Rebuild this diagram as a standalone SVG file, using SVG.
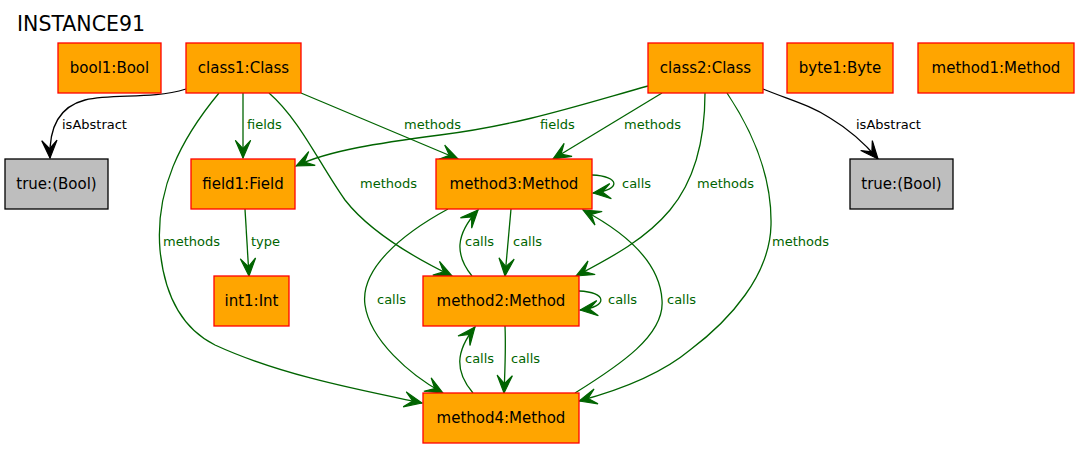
<svg xmlns="http://www.w3.org/2000/svg" width="1079" height="449" viewBox="0 0 1079 449">
<style>
  .node rect { fill: #FFA500; stroke: #FF0000; stroke-width: 1.3; }
  .node.val rect { fill: #BEBEBE; stroke: #000000; }
  .node text { font-family: "DejaVu Sans", sans-serif; font-size: 15px; fill: #000; text-anchor: middle; }
  .title { font-family: "DejaVu Sans", sans-serif; font-size: 20.5px; fill: #000; }
  .e { fill: none; stroke: #006400; stroke-width: 1.3; marker-end: url(#vg); }
  .e.k { stroke: #000000; marker-end: url(#vk); }
  .lbl { font-family: "DejaVu Sans", sans-serif; font-size: 13px; fill: #006400; }
  .lbl.k { fill: #000000; }
</style>
<defs>
  <marker id="vg" markerUnits="userSpaceOnUse" markerWidth="20" markerHeight="20" viewBox="-16 -8 17 16" refX="0" refY="0" orient="auto">
    <path d="M0,0 L-15,-6.5 L-8,0 L-15,6.5 Z" fill="#006400" stroke="#006400" stroke-width="1"/>
  </marker>
  <marker id="vk" markerUnits="userSpaceOnUse" markerWidth="20" markerHeight="20" viewBox="-16 -8 17 16" refX="0" refY="0" orient="auto">
    <path d="M0,0 L-15,-6.5 L-8,0 L-15,6.5 Z" fill="#000000" stroke="#000000" stroke-width="1"/>
  </marker>
</defs>
<rect x="0" y="0" width="1079" height="449" fill="#FFFFFF"/>
<text class="title" x="17" y="31">INSTANCE91</text>

<g id="connectors">
  <path class="e k" d="M186,89 C150,100 115,93 85,100 C58,107 49,130 50,158"/>
  <text class="lbl k" x="62" y="129">isAbstract</text>

  <path class="e" d="M243,93 L243,158"/>
  <text class="lbl" x="247" y="129">fields</text>

  <path class="e" d="M301,93 L458,159"/>
  <text class="lbl" x="404" y="129">methods</text>

  <path class="e" d="M269,93 C300,120 320,165 345,200 C370,232 415,258 452,276"/>
  <text class="lbl" x="360" y="188">methods</text>

  <path class="e" d="M219,93 C180,140 155,190 160,250 C165,300 185,330 215,345 C280,375 360,390 422,403"/>
  <text class="lbl" x="163" y="246">methods</text>

  <path class="e" d="M245,209 L249,276"/>
  <text class="lbl" x="251" y="246">type</text>

  <path class="e" d="M648,86 C580,105 520,125 440,135 C380,143 330,150 296,166"/>
  <text class="lbl" x="540" y="129">fields</text>

  <path class="e" d="M662,93 L553,159"/>
  <text class="lbl" x="624" y="129">methods</text>

  <path class="e" d="M705,93 C705,140 695,180 670,210 C645,240 610,258 576,276"/>
  <text class="lbl" x="697" y="188">methods</text>

  <path class="e" d="M727,93 C755,135 772,180 771,225 C770,275 730,320 690,350 C660,375 620,390 579,401"/>
  <text class="lbl" x="772" y="246">methods</text>

  <path class="e k" d="M763,89 C790,100 810,105 830,118 C850,130 866,145 878,159"/>
  <text class="lbl k" x="856" y="129">isAbstract</text>

  <path class="e" d="M592,175 C620,176 622,190 593,193"/>
  <text class="lbl" x="622" y="188">calls</text>

  <path class="e" d="M511,209 L505,276"/>
  <text class="lbl" x="513" y="246">calls</text>

  <path class="e" d="M472,276 C455,255 455,235 478,210"/>
  <text class="lbl" x="465" y="246">calls</text>

  <path class="e" d="M579,291 C607,292 609,307 580,310"/>
  <text class="lbl" x="608" y="304">calls</text>

  <path class="e" d="M448,209 C400,235 360,270 365,305 C370,340 410,375 443,393"/>
  <text class="lbl" x="377" y="304">calls</text>

  <path class="e" d="M575,393 C620,365 665,335 662,300 C660,265 630,235 583,210"/>
  <text class="lbl" x="667" y="304">calls</text>

  <path class="e" d="M505,326 C506,350 505,370 504,393"/>
  <text class="lbl" x="511" y="363">calls</text>

  <path class="e" d="M473,393 C455,372 455,352 475,327"/>
  <text class="lbl" x="465" y="363">calls</text>
</g>

<g id="bool1"><g class="node"><rect x="58" y="43" width="103" height="50"/><text x="109.5" y="73">bool1:Bool</text></g></g>
<g id="class1"><g class="node"><rect x="186" y="43" width="115" height="50"/><text x="243.5" y="73">class1:Class</text></g></g>
<g id="class2"><g class="node"><rect x="648" y="43" width="115" height="50"/><text x="705.5" y="73">class2:Class</text></g></g>
<g id="byte1"><g class="node"><rect x="787" y="43" width="106" height="50"/><text x="840" y="73">byte1:Byte</text></g></g>
<g id="method1"><g class="node"><rect x="918" y="43" width="156" height="50"/><text x="996" y="73">method1:Method</text></g></g>
<g id="true1"><g class="node val"><rect x="5" y="159" width="103" height="50"/><text x="56.5" y="189">true:(Bool)</text></g></g>
<g id="field1"><g class="node"><rect x="191" y="159" width="104" height="50"/><text x="243" y="189">field1:Field</text></g></g>
<g id="method3"><g class="node"><rect x="436" y="159" width="156" height="50"/><text x="514" y="189">method3:Method</text></g></g>
<g id="true2"><g class="node val"><rect x="850" y="159" width="103" height="50"/><text x="901.5" y="189">true:(Bool)</text></g></g>
<g id="int1"><g class="node"><rect x="214" y="276" width="75" height="50"/><text x="251.5" y="306">int1:Int</text></g></g>
<g id="method2"><g class="node"><rect x="423" y="276" width="156" height="50"/><text x="501" y="306">method2:Method</text></g></g>
<g id="method4"><g class="node"><rect x="423" y="393" width="156" height="50"/><text x="501" y="423">method4:Method</text></g></g>
</svg>
